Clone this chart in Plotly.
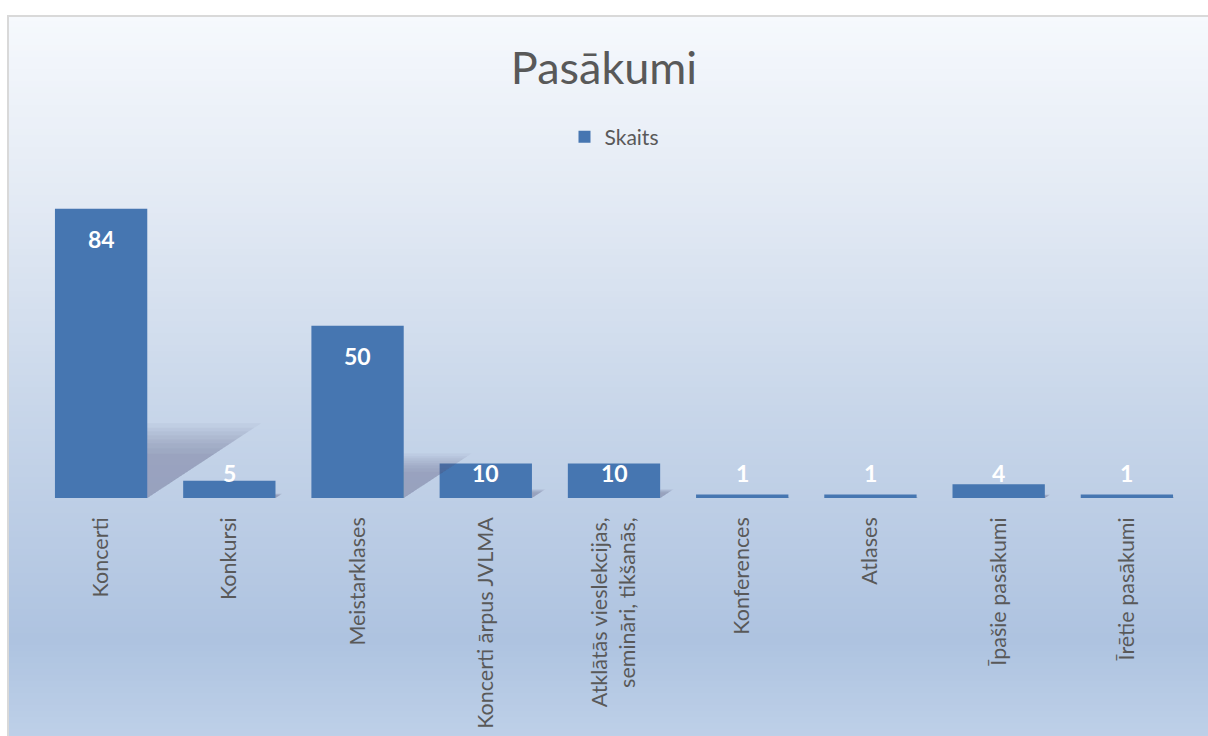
import plotly.graph_objects as go

categories = ["Koncerti", "Konkursi", "Meistarklases", "Koncerti ārpus JVLMA",
              "Atklātās vieslekcijas,<br>semināri, tikšanās,", "Konferences",
              "Atlases", "Īpašie pasākumi", "Īrētie pasākumi"]
values = [84, 5, 50, 10, 10, 1, 1, 4, 1]
series_name = "Skaits"
title_text = "Pasākumi"

W, H = 1208, 736
ML, MR, MT, MB = 37, 17, 188, 238
PW, PH = W - ML - MR, H - MT - MB
YMAX = 90
FONT = "Lato"
TXT = "#595959"
BAR = "#4676b1"

idx = list(range(len(categories)))

fig = go.Figure()

# background gradient bands (paper coords derived from pixel layout)
stops = [(15, (246, 249, 253)), (200, (227, 234, 244)), (400, (201, 215, 234)),
         (640, (174, 195, 224)), (736, (190, 208, 232))]
def col_at(py):
    for (a, ca), (b, cb) in zip(stops, stops[1:]):
        if a <= py <= b:
            t = (py - a) / (b - a)
            return "rgb(%d,%d,%d)" % tuple(round(ca[k] + (cb[k] - ca[k]) * t) for k in range(3))
    return "rgb(%d,%d,%d)" % stops[-1][1]

shapes = []
step = 6
py = 15
while py < H:
    shapes.append(dict(type="rect", xref="paper", yref="paper",
                       x0=(7 - ML) / PW, x1=(W + 5 - ML) / PW,
                       y0=(MT + PH - py) / PH, y1=(MT + PH - py - step - 0.5) / PH,
                       fillcolor=col_at(py + step / 2), line=dict(width=0), layer="below"))
    py += step
# border
shapes.append(dict(type="rect", xref="paper", yref="paper",
                   x0=(8 - ML) / PW, x1=(W + 10 - ML) / PW,
                   y0=(MT + PH - 16) / PH, y1=(MT + PH - H - 10) / PH,
                   fillcolor="rgba(0,0,0,0)", line=dict(color="#d9d9d9", width=2), layer="below"))

# soft perspective shadows behind bars
half = 0.36
for i, v in zip(idx, values):
    for s in [1.15, 1.08, 1.02, 0.96, 0.9, 0.84, 0.76, 0.68]:
        xs = [i + half, i + half, i + half + 0.0092 * v * s, i + half]
        ys = [0, 0.225 * v * s, 0.225 * v * s, 0]
        fig.add_trace(go.Scatter(x=xs, y=ys, fill="toself", mode="lines",
                                 line=dict(width=0), fillcolor="rgba(85,100,120,0.055)",
                                 hoverinfo="skip", showlegend=False))

fig.add_trace(go.Bar(x=idx, y=values, name=series_name, width=0.72,
                     marker=dict(color=BAR, line=dict(width=0))))

annotations = []
for i, v in zip(idx, values):
    ly = max(v - 8.8, 7.3)
    annotations.append(dict(x=i, y=ly, xref="x", yref="y", text="<b>%d</b>" % v,
                            showarrow=False, font=dict(family=FONT, size=23, color="white")))

fig.update_layout(
    width=W, height=H,
    margin=dict(l=ML, r=MR, t=MT, b=MB, autoexpand=False),
    paper_bgcolor="white", plot_bgcolor="rgba(0,0,0,0)",
    title=dict(text=title_text, x=0.5, xanchor="center", y=1 - 68 / H, yanchor="middle",
               font=dict(family=FONT, size=45, color=TXT), automargin=False),
    legend=dict(orientation="h", x=0.5, xanchor="center", y=(MT + PH - 137) / PH, yanchor="middle",
                font=dict(family=FONT, size=21, color=TXT), bgcolor="rgba(0,0,0,0)",
                itemwidth=30),
    xaxis=dict(range=[-0.5, len(categories) - 0.5], tickvals=idx, ticktext=categories,
               tickangle=-90, showgrid=False, zeroline=False, showline=False, ticks="",
               ticklabelstandoff=14, automargin=False,
               tickfont=dict(family=FONT, size=21.5, color=TXT), fixedrange=True),
    yaxis=dict(range=[0, YMAX], visible=False, fixedrange=True, automargin=False),
    shapes=shapes, annotations=annotations, showlegend=True,
)

fig.write_html("out.html", config={"displayModeBar": False},
               post_script="document.body.style.margin='0';document.body.style.overflow='hidden';")
